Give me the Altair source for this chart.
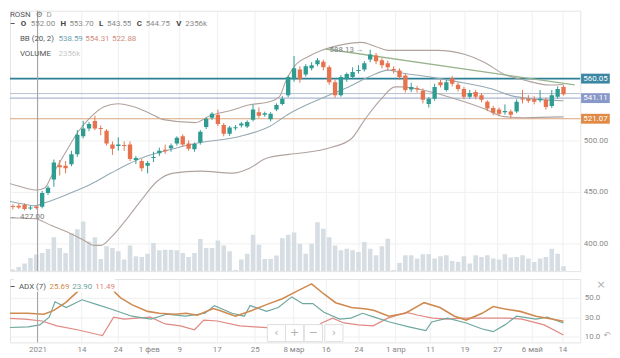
import altair as alt
import pandas as pd
import numpy as np

FONT = "Roboto"

# ---------------- data ----------------
opens = [431, 436, 436.5, 437.5, 434, 435.5, 435.5, 449, 462, 476,
         475.5, 477, 486.5, 504, 511.5, 519, 512, 509.5, 496, 494.5,
         495.5, 496, 481, 480, 475.5, 483, 487.5, 491, 492.5, 497,
         504, 497, 491.5, 498, 513, 522, 525, 515, 506.5, 512,
         514.5, 513.5, 520, 527.5, 525, 520.5, 530, 535.5, 544, 559.5,
         569, 564, 570, 574, 576.5, 571, 556.5, 544, 559.5, 561.5,
         567.5, 569, 578.5, 582.5, 578, 575, 569.5, 568, 563, 549.5,
         550.5, 548, 535.5, 540.5, 556.5, 549, 560.5, 554, 550, 542.5,
         547, 544, 537.5, 531.5, 530, 527.5, 528, 528, 540.5, 540.5,
         540, 539, 539.5, 533.5, 542.5, 552]
highs = [436, 438, 438.5, 439, 436.5, 437, 451, 456, 481.5, 481,
         480, 490, 510, 519, 518, 524, 514.5, 511, 499, 503,
         499, 499, 485, 482, 480, 489, 493, 496, 497, 504,
         506, 500, 498, 510, 522.5, 527.5, 530, 517, 514, 515,
         518, 519.5, 534.5, 532, 528, 527.5, 536, 543, 563, 582,
         572, 574, 576, 580, 578.5, 573, 559, 563.5, 566, 571,
         573, 577, 588.13, 585, 580, 577.5, 572, 570, 565, 556,
         553, 550.5, 542, 555, 559, 559, 562.5, 556, 552, 549,
         549, 546, 539, 533.5, 532, 535, 530, 540, 549, 544,
         543, 549, 541.5, 549, 552.5, 553.7]
lows = [427, 433, 433.5, 432, 432.5, 433, 434, 447, 455, 466,
        468, 475, 484, 502, 509, 510, 505, 495, 486, 490,
        490, 480, 477, 470, 468, 479, 485, 487, 489, 495,
        494, 490, 489, 496, 511, 520, 514, 504, 504.5, 510,
        512.5, 512, 518.5, 522, 523, 518.5, 528.5, 534, 542, 557,
        556, 562, 568, 572, 568, 554, 541.5, 542.5, 557, 559.5,
        565, 567, 576, 574, 570, 568, 565, 559, 546.5, 547,
        546.5, 536, 532, 538.5, 551.5, 547.5, 552.5, 547.5, 540, 540.5,
        540, 537, 528.5, 524.5, 523.5, 525, 521.5, 526.5, 536, 536.5,
        535, 537, 530, 531.5, 540.5, 543.55]
closes = [435, 435.5, 435, 433.5, 435, 434.5, 449, 454, 478.5, 474,
          473, 486.5, 505.5, 511.5, 516, 511.5, 511, 497, 492, 496,
          494.5, 482, 483, 473, 478, 484, 490, 489.5, 495, 502.5,
          496, 492, 496.5, 508.5, 521, 526, 516, 506.5, 512.5, 512.5,
          516.5, 518, 530, 524, 526.5, 526, 534.5, 540.5, 561.5, 570,
          559.5, 572, 573, 578, 571, 556.5, 544, 561.5, 564.5, 566.5,
          568.5, 575, 583.5, 577, 573, 571, 568, 561.5, 549, 552,
          550, 539.5, 540.5, 552, 553.5, 556.5, 555, 550, 542.5, 546,
          542.5, 539.5, 531, 527, 526, 528.5, 525, 537.5, 540, 538.5,
          537.5, 540.5, 532.5, 544, 550, 544.75]
volumes_k = [3900, 800, 2000, 3600, 6250, 7850, 8600, 10500, 16100, 10950,
             8600, 18000, 19900, 23500, 14100, 16100, 5800, 11750, 10950, 9400,
             5500, 12100, 7050, 6700, 8300, 13300, 9870, 10200, 10200, 9870,
             8600, 6700, 8600, 15200, 10950, 10950, 14570, 12100, 9400, 470,
             5500, 8300, 17250, 12550, 5800, 5800, 7400, 15650, 17250, 18330,
             13000, 8300, 13000, 23200, 20050, 16100, 12200, 9870, 10650, 9870,
             9070, 13770, 10650, 7520, 11750, 15370, 470, 3900, 7520, 7520,
             5970, 8000, 8000, 5970, 7050, 7520, 4840, 4370, 7050, 3620,
             7520, 6720, 7520, 5970, 5500, 8000, 6440, 6720, 7520, 5970,
             4370, 5970, 6720, 10650, 8300, 2356]

bb_upper_i = [-0.85, 2.54, 5.07, 6.42, 7.61, 9.80, 12.17, 14.37, 16.57, 18.93, 21.64, 24.51,
              26.71, 32.12, 34.65, 38.03, 41.41, 44.79, 46.48, 47.67, 49.36, 51.55, 53.75,
              56.63, 60.51, 62.88, 65.08, 70.15, 73.53, 78.09, 81.47, 84.85, 88.24, 92.63, 95]
bb_upper = [460.6, 454.8, 451.9, 453.8, 465.4, 486.5, 508.7, 523.1, 532.7, 535.6, 532.7, 526.0,
            520.2, 517.3, 524.0, 528.8, 534.6, 537.5, 542.3, 558.7, 574.0, 581.7, 587.5,
            592.3, 595.2, 591.3, 587.5, 587.5, 587.5, 583.7, 576.0, 564.4, 558.7, 553.8, 554.31]
bb_mid_i = [-0.85, 2.54, 4.73, 6.42, 10.48, 14.37, 17.75, 20.62, 23.33, 27.38, 32.12, 39.72, 44.79,
            48.17, 51.55, 55.44, 58.32, 61.70, 65.08, 66.77, 72.35, 78.09, 82.83, 86.21, 89.59, 95]
bb_mid = [442.3, 438.5, 436.5, 439.4, 448.1, 457.7, 468.3, 476.9, 483.7, 490.4, 497.1, 503.8, 513.5,
          526.0, 535.6, 545.2, 551.9, 561.5, 568.3, 566.3, 561.5, 555.8, 550.0, 543.3, 540.4, 538.59]
bb_lower_i = [-0.85, 4.73, 7.61, 10.48, 13.18, 14.88, 16.06, 17.75, 20.62, 22.82, 25.68, 28.4,
              32.96, 38.54, 41.41, 44.28, 48.17, 49.86, 55.44, 58.82, 61.19, 63.89, 66.26, 67.28,
              72.35, 78.09, 81.47, 84.85, 88.24, 95]
bb_lower = [425.0, 424.0, 417.3, 410.6, 402.9, 398.1, 398.1, 405.8, 425.0, 441.3, 460.6, 468.3,
            470.2, 468.3, 473.1, 482.7, 486.5, 487.5, 493.3, 501.9, 521.2, 540.4, 552.0, 552.0,
            547.1, 537.5, 530.8, 523.1, 522.1, 522.88]

adx_i = [-1, 3.5, 6.3, 8.0, 10.0, 12.7, 15.2, 17.7, 19.4, 21.3, 24.0, 26.0, 28.6, 30.6, 32.5,
         35.2, 36.3, 39.0, 41.8, 44.3, 47.0, 49.5, 52.0, 54.1, 56.1, 58.8, 61.4, 62.7, 65.2, 68.0,
         71.2, 73.9, 76.4, 78.4, 81.1, 83.0, 85.0, 87.6, 90.3, 93.0, 95.0]
adx = [34, 34, 33, 37, 45, 60, 75, 60, 50, 43, 36, 34, 33, 34, 32,
       39, 37, 31, 37, 43, 49, 57, 64.5, 54, 45, 40, 38.5, 37, 31, 34,
       45, 40, 31, 27, 34, 41, 38.5, 36, 31, 28, 25.69]
pdi_i = [-1, 3.6, 5.6, 7.2, 8.2, 10.1, 12.8, 15.4, 18.0, 21.3, 24.6, 27.2, 30.5, 33.8, 35.4,
         38.4, 40.5, 41.5, 44.3, 46.3, 48.6, 50.5, 52.2, 54.1, 56.8, 58.7, 60.7, 62.7, 65.3, 68.6,
         71.5, 72.5, 75.2, 78.4, 81.0, 83.0, 85.0, 87.0, 90.3, 92.2, 95.0]
pdi = [19, 20, 22, 30, 46, 40, 48, 43, 38, 31, 28, 33, 31, 34, 42,
       34, 31, 42, 36, 40, 51, 44, 44, 35, 28, 29, 34, 30, 25, 20,
       16, 25, 29, 24, 18, 15, 22, 31, 28, 30, 23.9]
mdi_i = [-1, 3, 6, 8.5, 12, 15.5, 16.3, 18.2, 20, 24.5, 27, 29.6, 32, 33.6, 35.9,
         39.7, 42.3, 45, 48, 52, 53.7, 55.6, 57.5, 60, 62.5, 65, 68.2, 70.2, 72.7, 75.2,
         77.7, 81.6, 85.4, 87.9, 91.7, 95]
mdi = [29, 28, 26, 21, 17, 12, 11, 30, 28, 30, 23, 21, 17, 27, 26,
       21, 20, 19, 17, 15, 24, 29, 24, 22, 21, 29, 35, 32, 29, 28,
       29, 29, 29, 28, 22, 11.49]

tick_pos = [5.2, 12.7, 18.9, 24.2, 29.4, 35.8, 42.3, 48.9, 54.4, 60.0, 66.3, 72.2, 78.1, 83.7, 89.6, 94.8]
tick_lbl = ["2021", "14", "24", "1 фев", "9", "17", "25", "8 мар", "16", "24", "1 апр", "11", "19", "27", "6 май", "14"]

level_prices = [560.05, 545.5, 541.11, 521.07]
tag_prices = [560.05, 541.11, 521.07]
tag_labels = ["560.05", "541.11", "521.07"]
trend_i = [54.4, 96.9]
trend_p = [588.8, 553.9]
crosshair_i = 5.2
min_label = ("← 427.00", 0.55, 425.3)
max_label = ("588.13 →", 60.9, 587.5)

# ---------------- layout / styles ----------------
W, H_MAIN, H_ADX = 576, 263, 64
XDOM = [0.507, 97.87]
PDOM = [373.1, 626.0]
VDOM = [0, 123610]
ADOM = [3.85, 69.5]
UP, DN = "#2f9c92", "#e6734d"
GRID = "#efefef"

XS = alt.Scale(domain=XDOM, nice=False, zero=False)
PS = alt.Scale(domain=PDOM, nice=False, zero=False)
AS = alt.Scale(domain=ADOM, nice=False, zero=False)

N = len(opens)
df = pd.DataFrame({"i": list(range(N)), "o": opens, "h": highs, "l": lows, "c": closes, "v": volumes_k})
df["col"] = np.where(df.c >= df.o, UP, DN)
mid = (df.o + df.c) / 2
half = ((df.o - df.c).abs() / 2).clip(lower=0.5)
df["bt"] = mid + half
df["bb"] = mid - half
df["x0"] = df.i - 0.37
df["x1"] = df.i + 0.37
df["vx0"] = df.i - 0.39
df["vx1"] = df.i + 0.39
df["z"] = 0

# shared axis definitions (identical on every layer so that they merge)
main_x_axis = alt.Axis(values=tick_pos, labels=False, ticks=False, tickSize=0, domain=False, grid=True,
                       gridColor=GRID, title=None)
lbl_expr = "[" + ",".join("'%s'" % l for l in tick_lbl) + "][indexof([" + ",".join("%g" % p for p in tick_pos) + "], datum.value)]"
adx_x_axis = alt.Axis(values=tick_pos, labelExpr=lbl_expr, grid=True, gridColor=GRID,
                      ticks=False, tickSize=0, domain=False, labelPadding=3, labelColor="#888888", labelFontSize=8,
                      labelFont=FONT, title=None, labelOverlap=False, labelFlush=False)
adx_y_axis = alt.Axis(orient="right", values=[10, 30, 50], format=".1f", grid=True, gridColor=GRID,
                      domain=False, ticks=False, tickSize=0, labelPadding=4, labelColor="#8a8a8a",
                      labelFontSize=8, labelFont=FONT, title=None)
price_axis = alt.Axis(orient="right", values=[400, 450, 500], format=".2f", grid=True, gridColor=GRID,
                      domain=False, ticks=False, tickSize=0, labelPadding=3, labelColor="#8a8a8a",
                      labelFontSize=8, labelFont=FONT, title=None)


def mx(field):
    return alt.X(field, scale=XS, axis=main_x_axis)


def ax(field):
    return alt.X(field, scale=XS, axis=adx_x_axis)


def ay(field):
    return alt.Y(field, scale=AS, axis=adx_y_axis)


def py(field, axis=None):
    return alt.Y(field, scale=PS, axis=axis)


def ptxt(text, x, y, color, size=8, weight="normal", align="left", font=FONT):
    return alt.Chart(pd.DataFrame({"t": [text]})).mark_text(
        align=align, baseline="middle", fontSize=size, font=font, color=color, fontWeight=weight
    ).encode(x=alt.value(x), y=alt.value(y), text="t:N")


# ---------------- main panel ----------------
vol = alt.Chart(df).mark_rect(color="#d6dde3", clip=True).encode(
    x=mx("vx0:Q"), x2="vx1:Q",
    y=alt.Y("v:Q", scale=alt.Scale(domain=VDOM, nice=False), axis=None), y2="z:Q",
)

lv = pd.DataFrame({"p": level_prices, "col": ["#2d7f96", "#b7bfcd", "#96a5c6", "#dca47e"], "w": [1.6, 1, 1, 1]})
levels = alt.Chart(lv).mark_rule().encode(
    y=py("p:Q"),
    color=alt.Color("col:N", scale=None),
    strokeWidth=alt.StrokeWidth("w:Q", scale=None),
)

cross = alt.Chart(pd.DataFrame({"i": [crosshair_i]})).mark_rule(color="#a3a3a3", strokeWidth=1).encode(x=mx("i:Q"))


def band(ix, vals, color, axis=None):
    d = pd.DataFrame({"i": ix, "p": vals})
    return alt.Chart(d).mark_line(color=color, strokeWidth=1.1, interpolate="monotone", clip=True).encode(
        x=mx("i:Q"), y=py("p:Q", axis))


bb_u = band(bb_upper_i, bb_upper, "#b0a39e", price_axis)
bb_m = band(bb_mid_i, bb_mid, "#97aab3")
bb_l = band(bb_lower_i, bb_lower, "#b0a39e")

trend = alt.Chart(pd.DataFrame({"i": trend_i, "p": trend_p})).mark_line(color="#97b48e", strokeWidth=1.3, clip=True).encode(
    x=mx("i:Q"), y=py("p:Q"))

wicks = alt.Chart(df).mark_rule(strokeWidth=1, clip=True).encode(
    x=mx("i:Q"), y=py("l:Q"), y2="h:Q", color=alt.Color("col:N", scale=None))
bodies = alt.Chart(df).mark_rect(clip=True).encode(
    x=mx("x0:Q"), x2="x1:Q", y=py("bb:Q"), y2="bt:Q", color=alt.Color("col:N", scale=None))

tags = pd.DataFrame({"p": tag_prices, "t": tag_labels, "bg": ["#3a86a3", "#8898c8", "#e08a45"]})
tags["y0"] = tags.p - 4.8
tags["y1"] = tags.p + 4.8
tags["x0"] = 98.0
tags["x1"] = 102.9
tags["xc"] = 100.45
tag_box = alt.Chart(tags).mark_rect().encode(
    x=mx("x0:Q"), x2="x1:Q", y=py("y0:Q"), y2="y1:Q", color=alt.Color("bg:N", scale=None))
tag_txt = alt.Chart(tags).mark_text(color="white", fontSize=8, font=FONT).encode(
    x=mx("xc:Q"), y=py("p:Q"), text="t:N")

ann = pd.DataFrame({"t": [min_label[0], max_label[0]], "i": [min_label[1], max_label[1]],
                    "p": [min_label[2], max_label[2]]})
ann_l = alt.Chart(ann.iloc[[0]]).mark_text(align="left", fontSize=8, font=FONT, color="#7a7a7a").encode(
    x=mx("i:Q"), y=py("p:Q"), text="t:N")
ann_r = alt.Chart(ann.iloc[[1]]).mark_text(align="right", fontSize=8, font=FONT, color="#7a7a7a").encode(
    x=mx("i:Q"), y=py("p:Q"), text="t:N")

legend_main = [
    ptxt("ROSN", 0, 4.5, "#555555"),
    ptxt("⚙", 26, 4.5, "#777777", font="DejaVu Sans"),
    ptxt("D", 37, 4.5, "#9a9a9a"),
    ptxt("–", 0, 13.7, "#444444", weight="bold"),
    ptxt("O", 11, 13.7, "#444444", weight="bold"),
    ptxt("552.00", 21, 13.7, "#8a8a8a"),
    ptxt("H", 51, 13.7, "#444444", weight="bold"),
    ptxt("553.70", 60, 13.7, "#8a8a8a"),
    ptxt("L", 90, 13.7, "#444444", weight="bold"),
    ptxt("543.55", 98, 13.7, "#8a8a8a"),
    ptxt("C", 128, 13.7, "#444444", weight="bold"),
    ptxt("544.75", 137, 13.7, "#8a8a8a"),
    ptxt("V", 168, 13.7, "#444444", weight="bold"),
    ptxt("2356k", 177, 13.7, "#8a8a8a"),
    ptxt("BB (20, 2)", 10, 28.7, "#555555"),
    ptxt("538.59", 49, 28.7, "#6f9fb2"),
    ptxt("554.31", 76, 28.7, "#d08b80"),
    ptxt("522.88", 103, 28.7, "#d08b80"),
    ptxt("VOLUME", 10, 43.7, "#555555"),
    ptxt("2356k", 49, 43.7, "#c9c9c9"),
]

main = alt.layer(vol, levels, cross, bb_u, bb_m, bb_l, trend, wicks, bodies, tag_box, tag_txt, ann_l, ann_r,
                 *legend_main).resolve_scale(y="independent").properties(width=W, height=H_MAIN)

# ---------------- ADX panel ----------------
def aline(ix, vals, color, width):
    d = pd.DataFrame({"i": ix, "v": vals})
    return alt.Chart(d).mark_line(color=color, strokeWidth=width, clip=True).encode(x=ax("i:Q"), y=ay("v:Q"))


l_mdi = aline(mdi_i, mdi, "#df8a82", 1.2)
l_pdi = aline(pdi_i, pdi, "#6ea89f", 1.2)
l_adx = aline(adx_i, adx, "#cf8a4f", 1.6)
cross2 = alt.Chart(pd.DataFrame({"i": [crosshair_i]})).mark_rule(color="#a3a3a3", strokeWidth=1).encode(x=ax("i:Q"))

nav = pd.DataFrame({"c": [46.0, 49.1, 52.3, 55.8], "g": ["‹", "+", "−", "›"]})
nav["x0"] = nav.c - 1.55
nav["x1"] = nav.c + 1.55
nav["v0"] = 4.6
nav["v1"] = 22.3
nav["vm"] = 13.4
nav_box = alt.Chart(nav).mark_rect(fill="white", stroke="#dedede", strokeWidth=1).encode(
    x=ax("x0:Q"), x2="x1:Q", y=ay("v0:Q"), y2="v1:Q")
nav_txt = alt.Chart(nav).mark_text(color="#b0b0b0", fontSize=11, font="DejaVu Sans").encode(
    x=ax("c:Q"), y=ay("vm:Q"), text="g:N")

leg_bg = alt.Chart(pd.DataFrame({"x0": [1.18], "x1": [18.4], "v0": [56.2], "v1": [69.5]})).mark_rect(fill="white").encode(
    x=ax("x0:Q"), x2="x1:Q", y=ay("v0:Q"), y2="v1:Q")

legend_adx = [
    ptxt("–", 0, 7.7, "#444444", weight="bold"),
    ptxt("ADX (7)", 9, 7.7, "#555555"),
    ptxt("25.69", 40, 7.7, "#d08a4a"),
    ptxt("23.90", 63, 7.7, "#6aa59c"),
    ptxt("11.49", 86, 7.7, "#dd857c"),
    ptxt("×", 597, 6, "#b0b0b0", size=11, font="DejaVu Sans", align="center"),
    ptxt("↶", 603, 57, "#b0b0b0", size=9, font="DejaVu Sans", align="center"),
]

adxp = alt.layer(l_mdi, l_pdi, l_adx, cross2, nav_box, nav_txt, leg_bg, *legend_adx).properties(width=W, height=H_ADX)

chart = alt.vconcat(main, adxp, spacing=6).properties(padding=0).configure_view(stroke="#e4e4e4")
chart.save("out.html", embed_options={"renderer": "svg", "actions": False})
